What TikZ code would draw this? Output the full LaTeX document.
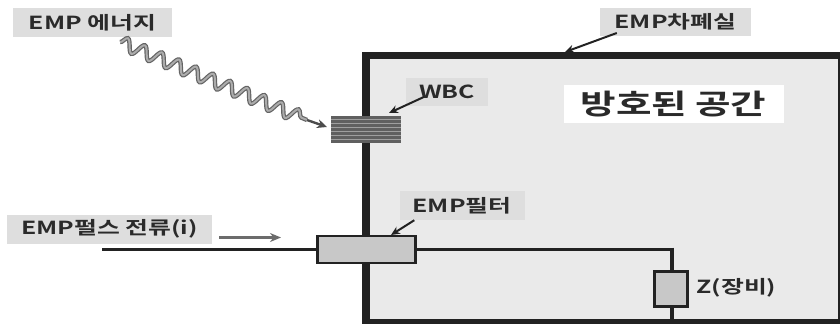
\documentclass[tikz,border=0pt]{standalone}
\usepackage{fontspec}
\setmainfont{Noto Sans CJK KR}[BoldFont={Noto Sans CJK KR Bold}]
\usetikzlibrary{decorations.pathmorphing,arrows.meta}
\definecolor{lab}{HTML}{DEDEDE}
\definecolor{room}{HTML}{EAEAEA}
\definecolor{part}{HTML}{C8C8C8}
\definecolor{ink}{HTML}{222222}
\definecolor{txt}{HTML}{2A2A2A}
\newcommand{\widetxt}[1]{\scalebox{1.38}[1]{#1}}
\tikzset{
  x=1pt,y=-1pt,
  labeltext/.style={inner sep=0pt,font=\fontsize{18}{20}\selectfont\bfseries,text=txt,anchor=center},
  labelbox/.style={labeltext,fill=lab},
  partbox/.style={draw=ink,fill=part,line width=2.4pt,inner sep=0pt,anchor=center},
  wire/.style={draw=ink,line width=3pt},
  pointer/.style={draw=ink,line width=2pt,-{Stealth[length=9pt,width=8pt]}},
  stripe/.style={draw=gray!75,line width=0.9pt},
  wave/.style={decorate,decoration={snake,segment length=18.5pt,amplitude=6.5pt}}
}
\begin{document}
\begin{tikzpicture}
\useasboundingbox (0,0) rectangle (840,324);
% room: dark walls with the grey interior; the right wall runs off the picture
\fill[ink] (361.5,52) rectangle (840,324);
\node[fill=room,inner sep=0pt,minimum width=468pt,minimum height=260pt,anchor=north west] (room) at (370,59) {};
% labels
\node[labelbox,minimum width=159pt,minimum height=29pt] (lenergy) at (92.5,22.5) {\widetxt{EMP\hspace{4pt}에너지}};
\node[labelbox,minimum width=205pt,minimum height=29pt] (lpulse) at (109.5,229) {\widetxt{EMP펄스\hspace{4pt}전류(i)}};
\node[labelbox,minimum width=151pt,minimum height=28pt] (lroom) at (675.5,21.5) {\widetxt{EMP차폐실}};
\node[labelbox,minimum width=82pt,minimum height=28pt] (lwbc) at (447,92) {\widetxt{WBC}};
\node[labelbox,minimum width=125pt,minimum height=29pt] (lfilter) at (462,205.5) {\widetxt{EMP필터}};
\node[fill=white,inner sep=0pt,minimum width=220pt,minimum height=38pt,font=\fontsize{28}{30}\selectfont\bfseries,text=txt] (lspace) at (673.5,104) {\widetxt{방호된\hspace{6pt}공간}};
\node[labeltext] (lz) at (736.5,288) {\widetxt{Z(장비)}};
% WBC
\node[fill=gray!75!black,inner sep=0pt,minimum width=70pt,minimum height=27pt] (wbc) at (366,129.5) {};
\foreach \yy in {119.5,123.5,127.5,131.5,135.5,139.5}{\draw[stripe] (wbc.west |- 0,\yy) -- (wbc.east |- 0,\yy);}
% wire and parts
\node[partbox,minimum width=98pt,minimum height=27pt] (filter) at (366.5,249.5) {};
\node[partbox,minimum width=33pt,minimum height=35pt] (z) at (671,289) {};
\coordinate (wirein) at (102,249);
\coordinate (corner) at (672,249);
\coordinate (zfoot) at (672,320);
\draw[wire] (wirein) -- (filter.west |- wirein);
\draw[wire] (filter.east |- corner) -- (corner);
\draw[wire,line width=4pt] (corner) ++(0,-1.5) -- (corner |- z.north);
\draw[wire,line width=4pt] (corner |- z.south) -- (zfoot);
% wave
\coordinate (wavestart) at (120,42);
\coordinate (waveend) at (307,120);
\coordinate (wavetip) at (327,127);
\draw[ink!70,line width=4.4pt,wave] (wavestart) -- (waveend);
\draw[gray!65,line width=2pt,wave] (wavestart) -- (waveend);
\draw[gray!60!black,line width=2.4pt,-{Stealth[length=10pt,width=9pt]}] (waveend) -- (wavetip);
% current arrow
\coordinate (curA) at (219,237.5);
\coordinate (curB) at (281,237.5);
\draw[gray!85!black,line width=2.6pt,-{Stealth[length=11pt,width=9pt]}] (curA) -- (curB);
% pointers
\coordinate (proomt) at (565,52);
\coordinate (pwbct) at (389,113);
\coordinate (pfiltert) at (391,235);
\draw[pointer] (lroom.west) ++(17,11.5) -- (proomt);
\draw[pointer] (lwbc.west) ++(18,5) -- (pwbct);
\draw[pointer] (lfilter.south west) ++(15,0) -- (pfiltert);
\end{tikzpicture}
\end{document}
